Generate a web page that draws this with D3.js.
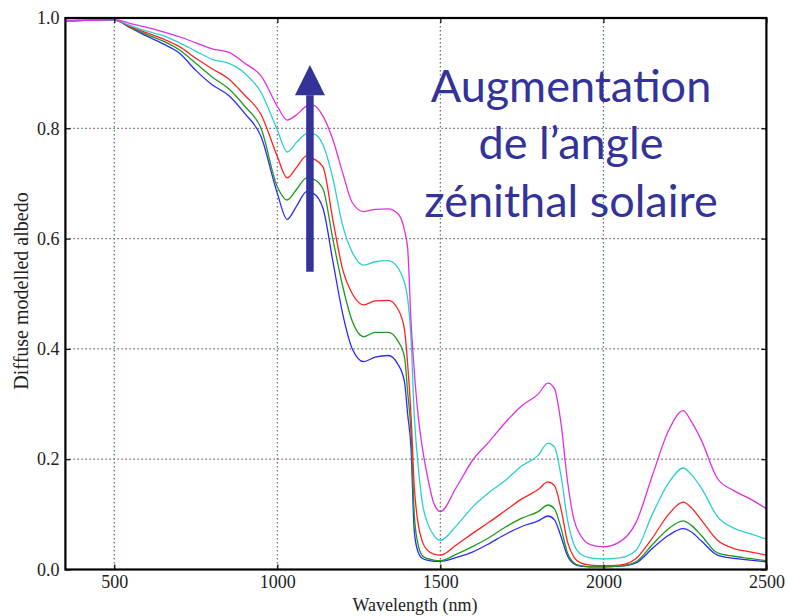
<!DOCTYPE html>
<html>
<head>
<meta charset="utf-8">
<script src="https://cdn.jsdelivr.net/npm/d3@7"></script>
<style>
  body { margin: 0; background: #fff; }
  svg { display: block; }
</style>
</head>
<body>
<div id="chart"></div>
<script>
// Data
const wavelengths = [350, 450, 500, 550, 600, 650, 700, 750, 800, 850, 900, 950, 1000,
  1030, 1060, 1090, 1110, 1140, 1170, 1200, 1230, 1265, 1300, 1340, 1370, 1390, 1400,
  1410, 1420, 1430, 1445, 1460, 1480, 1500, 1550, 1600, 1650, 1700, 1750, 1800, 1830,
  1850, 1870, 1890, 1910, 1930, 1960, 2000, 2050, 2100, 2150, 2200, 2245, 2270, 2300,
  2350, 2400, 2450, 2500];

const albedoMagenta = [0.995, 0.996, 0.997, 0.99, 0.983, 0.975, 0.966, 0.955, 0.944, 0.938, 0.918, 0.895, 0.84,
  0.815, 0.825, 0.84, 0.842, 0.822, 0.78, 0.72, 0.665, 0.649, 0.653, 0.654, 0.645, 0.615, 0.58,
  0.45, 0.36, 0.29, 0.22, 0.17, 0.12, 0.105, 0.15, 0.199, 0.232, 0.267, 0.297, 0.318, 0.338,
  0.328, 0.265, 0.16, 0.09, 0.062, 0.045, 0.041, 0.05, 0.085, 0.17, 0.252, 0.288, 0.268, 0.235,
  0.165, 0.143, 0.128, 0.11];

const albedoCyan = [0.995, 0.996, 0.996, 0.986, 0.976, 0.968, 0.955, 0.94, 0.925, 0.918, 0.9, 0.865, 0.797,
  0.757, 0.775, 0.79, 0.79, 0.77, 0.71, 0.625, 0.575, 0.552, 0.558, 0.56, 0.547, 0.52, 0.49,
  0.42, 0.28, 0.2, 0.12, 0.085, 0.062, 0.053, 0.08, 0.114, 0.14, 0.162, 0.188, 0.207, 0.229,
  0.222, 0.17, 0.09, 0.045, 0.028, 0.021, 0.019, 0.021, 0.035, 0.1, 0.157, 0.184, 0.172, 0.148,
  0.096, 0.075, 0.065, 0.055];

const albedoRed = [0.995, 0.996, 0.996, 0.984, 0.973, 0.962, 0.948, 0.927, 0.908, 0.89, 0.86, 0.825, 0.749,
  0.71, 0.73, 0.75, 0.745, 0.73, 0.635, 0.545, 0.5, 0.48, 0.487, 0.488, 0.472, 0.435, 0.37,
  0.28, 0.15, 0.09, 0.05, 0.035, 0.028, 0.026, 0.045, 0.066, 0.086, 0.107, 0.128, 0.145, 0.159,
  0.152, 0.11, 0.05, 0.022, 0.012, 0.008, 0.007, 0.008, 0.02, 0.057, 0.1, 0.122, 0.112, 0.09,
  0.053, 0.038, 0.032, 0.026];

const albedoGreen = [0.995, 0.996, 0.996, 0.983, 0.97, 0.958, 0.942, 0.918, 0.893, 0.872, 0.84, 0.8, 0.694,
  0.67, 0.69, 0.71, 0.708, 0.69, 0.6, 0.515, 0.45, 0.422, 0.43, 0.43, 0.414, 0.385, 0.32,
  0.25, 0.1, 0.05, 0.025, 0.02, 0.017, 0.016, 0.028, 0.042, 0.058, 0.077, 0.093, 0.105, 0.117,
  0.11, 0.075, 0.03, 0.012, 0.007, 0.005, 0.005, 0.006, 0.014, 0.045, 0.074, 0.088, 0.08, 0.062,
  0.03, 0.024, 0.02, 0.016];

const albedoBlue = [0.995, 0.996, 0.996, 0.982, 0.967, 0.953, 0.936, 0.905, 0.879, 0.86, 0.827, 0.785, 0.682,
  0.635, 0.66, 0.685, 0.682, 0.655, 0.56, 0.465, 0.4, 0.377, 0.385, 0.388, 0.372, 0.34, 0.28,
  0.22, 0.07, 0.035, 0.02, 0.017, 0.015, 0.015, 0.022, 0.032, 0.047, 0.064, 0.078, 0.088, 0.097,
  0.09, 0.06, 0.025, 0.01, 0.006, 0.005, 0.005, 0.006, 0.012, 0.038, 0.062, 0.074, 0.068, 0.052,
  0.026, 0.02, 0.017, 0.014];

const seriesNames = ["blue", "green", "red", "cyan", "magenta"];
const seriesValues = [albedoBlue, albedoGreen, albedoRed, albedoCyan, albedoMagenta];
const seriesColors = ["#2a2aff", "#1e9a1e", "#ff2222", "#2ccfcf", "#e030e0"];

const xTicks = [500, 1000, 1500, 2000, 2500];
const yTicks = [0.0, 0.2, 0.4, 0.6, 0.8, 1.0];
const annotationLines = ["Augmentation", "de l\u2019angle", "z\u00e9nithal solaire"];

// Layout
const width = 787;
const height = 616;
const plotLeft = 65.4;
const plotRight = 766.4;
const plotTop = 18;
const plotBottom = 569.5;
const ink = "#333399";

const svg = d3.select("#chart")
  .append("svg")
  .attr("width", width)
  .attr("height", height);

const x = d3.scaleLinear().domain([350, 2500]).range([plotLeft, plotRight]);
const y = d3.scaleLinear().domain([0, 1]).range([plotBottom, plotTop]);

// Grid (dotted, two interleaved colours as in the scan)
const grid = svg.append("g").attr("class", "grid");
const addGridLine = (x1, y1, x2, y2) => {
  grid.append("line")
    .attr("x1", x1).attr("y1", y1).attr("x2", x2).attr("y2", y2)
    .attr("stroke", "#22a040").attr("stroke-width", 1.2)
    .attr("stroke-dasharray", "1.5,6.5");
  grid.append("line")
    .attr("x1", x1).attr("y1", y1).attr("x2", x2).attr("y2", y2)
    .attr("stroke", "#c02a8a").attr("stroke-width", 1.2)
    .attr("stroke-dasharray", "1.5,6.5").attr("stroke-dashoffset", -4);
};
xTicks.filter(t => t < 2500).forEach(t => addGridLine(x(t), plotTop, x(t), plotBottom));
yTicks.filter(t => t > 0 && t < 1).forEach(t => addGridLine(plotLeft, y(t), plotRight, y(t)));

// Curves
const line = d3.line()
  .x((d, i) => x(wavelengths[i]))
  .y(d => y(d))
  .curve(d3.curveMonotoneX);

svg.append("g")
  .selectAll("path")
  .data(seriesValues)
  .join("path")
  .attr("class", (d, i) => "curve " + seriesNames[i])
  .attr("fill", "none")
  .attr("stroke", (d, i) => seriesColors[i])
  .attr("stroke-width", 1.3)
  .attr("d", line);

// Axes with inward ticks
const tickFont = "'Liberation Serif', 'Times New Roman', serif";

const xAxis = svg.append("g")
  .attr("transform", `translate(0,${plotBottom})`)
  .call(d3.axisBottom(x).tickValues(xTicks).tickSizeInner(-5).tickSizeOuter(0).tickPadding(10).tickFormat(d3.format("d")));
const yAxis = svg.append("g")
  .attr("transform", `translate(${plotLeft},0)`)
  .call(d3.axisLeft(y).tickValues(yTicks).tickSizeInner(-5).tickSizeOuter(0).tickPadding(6).tickFormat(d3.format(".1f")));
const xTop = svg.append("g")
  .attr("transform", `translate(0,${plotTop})`)
  .call(d3.axisTop(x).tickValues(xTicks).tickSizeInner(-5).tickSizeOuter(0).tickFormat(""));
const yRight = svg.append("g")
  .attr("transform", `translate(${plotRight},0)`)
  .call(d3.axisRight(y).tickValues(yTicks).tickSizeInner(-5).tickSizeOuter(0).tickFormat(""));

[xAxis, yAxis, xTop, yRight].forEach(g => {
  g.select(".domain").remove();
  g.selectAll(".tick line").attr("stroke", "#000").attr("stroke-width", 1.2);
  g.selectAll("text").attr("font-family", tickFont).attr("font-size", 18).attr("fill", "#222");
});
xAxis.selectAll("text").attr("dy", "0.71em").attr("y", 6);

// Frame
svg.append("rect")
  .attr("x", plotLeft).attr("y", plotTop)
  .attr("width", plotRight - plotLeft).attr("height", plotBottom - plotTop)
  .attr("fill", "none").attr("stroke", "#000").attr("stroke-width", 2.2);

// Axis titles
svg.append("text")
  .attr("x", 415).attr("y", 611)
  .attr("text-anchor", "middle")
  .attr("font-family", tickFont).attr("font-size", 18).attr("fill", "#222")
  .text("Wavelength (nm)");

svg.append("text")
  .attr("transform", "translate(28,291) rotate(-90)")
  .attr("text-anchor", "middle")
  .attr("font-family", tickFont).attr("font-size", 20).attr("fill", "#222")
  .text("Diffuse modelled albedo");

// Arrow annotation
const arrowX = x(1100);
svg.append("line")
  .attr("x1", arrowX).attr("x2", arrowX)
  .attr("y1", y(0.54)).attr("y2", y(0.86))
  .attr("stroke", ink).attr("stroke-width", 7.5);
svg.append("path")
  .attr("d", `M${arrowX - 15},${y(0.86)} L${arrowX + 15},${y(0.86)} L${arrowX},${y(0.915)} Z`)
  .attr("fill", ink);

// Text annotation
const note = svg.append("text")
  .attr("text-anchor", "middle")
  .attr("font-family", "Lato, Carlito, Calibri, sans-serif")
  .attr("font-size", 45)
  .attr("fill", ink);
note.selectAll("tspan")
  .data(annotationLines)
  .join("tspan")
  .attr("x", 571)
  .attr("y", (d, i) => 101.5 + i * 57.5)
  .text(d => d);
</script>
</body>
</html>
